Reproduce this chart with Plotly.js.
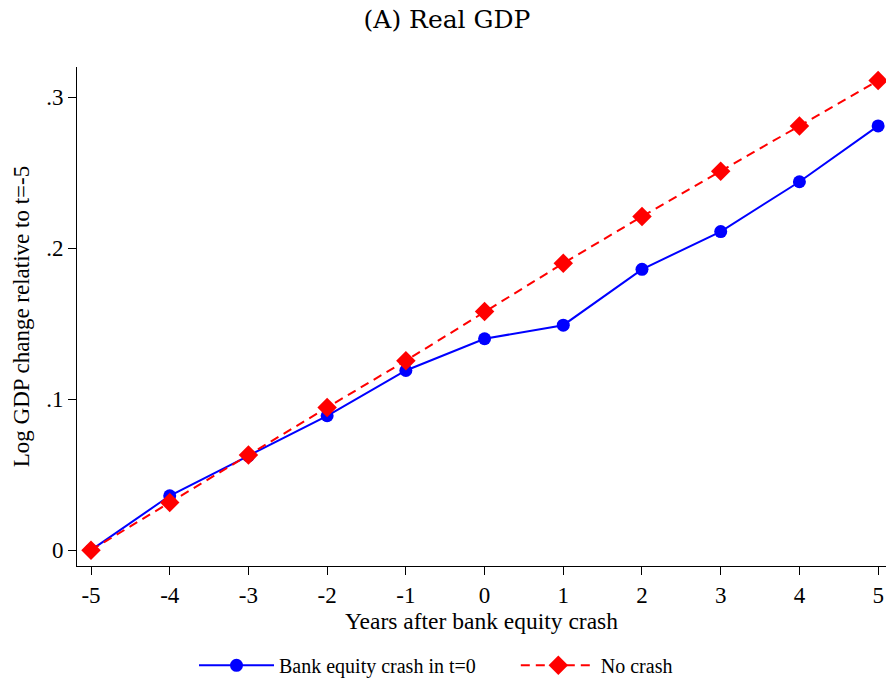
<!DOCTYPE html>
<html>
<head>
<meta charset="utf-8">
<script src="https://cdn.plot.ly/plotly-3.0.1.min.js"></script>
<style>
  body { margin: 0; background: #fff; }
  #plot { width: 886px; height: 685px; }
</style>
</head>
<body>
<div id="plot"></div>
<script>
// years relative to crash
const years = [-5, -4, -3, -2, -1, 0, 1, 2, 3, 4, 5]
const yearText = ['-5', '-4', '-3', '-2', '-1', '0', '1', '2', '3', '4', '5']
// log GDP change relative to t=-5
const crash = [0, 0.036, 0.0625, 0.089, 0.119, 0.140, 0.149, 0.186, 0.211, 0.244, 0.281]
const noCrash = [0, 0.0316, 0.063, 0.0945, 0.1255, 0.158, 0.190, 0.221, 0.251, 0.281, 0.311]
const yTicks = [0, 0.1, 0.2, 0.3]
const yTickText = ['0', '.1', '.2', '.3']

const serif = 'Liberation Serif, Times New Roman, serif'
// spacing between legend entries
const pad = '\u00a0'.repeat(7)

const data = [
    {
        x: years,
        y: crash,
        name: 'Bank equity crash in t=0' + pad,
        mode: 'lines+markers',
        type: 'scatter',
        line: { color: '#0000ff', width: 2 },
        marker: { color: '#0000ff', size: 13, symbol: 'circle' },
        cliponaxis: false,
    },
    {
        x: years,
        y: noCrash,
        name: 'No crash',
        mode: 'lines+markers',
        type: 'scatter',
        line: { color: '#ff0000', width: 2, dash: '9px,6px' },
        marker: { color: '#ff0000', size: 15, symbol: 'diamond' },
        cliponaxis: false,
    }
]

const layout = {
    width: 886,
    height: 685,
    margin: { l: 77, r: 0, t: 67, b: 116 },
    paper_bgcolor: '#fff',
    plot_bgcolor: '#fff',
    font: { family: serif, size: 23, color: '#000' },
    title: {
        text: '(A) Real GDP',
        font: { family: 'DejaVu Serif, serif', size: 25, color: '#000' },
        x: 447 / 886, xref: 'container', xanchor: 'center',
        y: 1 - 19 / 685, yref: 'container', yanchor: 'middle',
    },
    xaxis: {
        range: [-5.178, 5.1],
        tickvals: years,
        ticktext: yearText,
        ticks: 'outside',
        ticklen: 8,
        tickcolor: '#000',
        showline: true,
        linecolor: '#000',
        linewidth: 1,
        showgrid: false,
        zeroline: false,
        tickfont: { family: serif, size: 23 },
        title: { text: 'Years after bank equity crash', font: { family: serif, size: 23.5 }, standoff: 0 },
    },
    yaxis: {
        range: [-0.0105, 0.320],
        tickvals: yTicks,
        ticktext: yTickText,
        ticks: 'outside',
        ticklen: 8,
        tickcolor: '#000',
        showline: true,
        linecolor: '#000',
        linewidth: 1,
        showgrid: false,
        zeroline: false,
        tickfont: { family: serif, size: 23 },
        title: { text: 'Log GDP change relative to t=-5', font: { family: serif, size: 23 }, standoff: 10 },
    },
    showlegend: true,
    legend: {
        orientation: 'h',
        x: (436 - 77) / 809, xanchor: 'center',
        y: -0.199, yanchor: 'middle',
        itemwidth: 75,
        font: { family: serif, size: 20 },
        bgcolor: 'rgba(0,0,0,0)',
    },
}

Plotly.newPlot('plot', data, layout, { displayModeBar: false, staticPlot: true })
</script>
</body>
</html>
